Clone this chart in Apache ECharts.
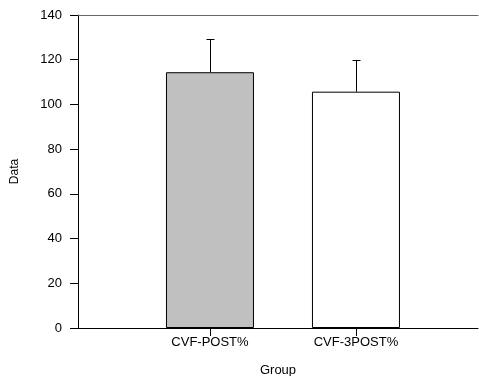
<!DOCTYPE html>
<html>
<head>
<meta charset="utf-8">
<script src="https://cdn.jsdelivr.net/npm/echarts@6/dist/echarts.min.js"></script>
<style>
  html, body { margin: 0; padding: 0; background: #fff; }
  #chart { width: 479px; height: 376px; }
</style>
</head>
<body>
<div id="chart"></div>
<script>
// group names, bar heights and upper error (mean + sd)
const groups = ["CVF-POST%", "CVF-3POST%"];
const groupPos = [1, 2];
const means = [114.4, 105.7];
const upperErr = [129.1, 119.7];
const barColors = ["#c0c0c0", "#ffffff"];
const yTicks = [0, 20, 40, 60, 80, 100, 120, 140];

const chart = echarts.init(document.getElementById("chart"));
const font = "Liberation Sans, Arial, sans-serif";

const option = {
  animation: false,
  grid: { left: 78, right: 1, top: 15, bottom: 48, outerBoundsMode: "none" },
  xAxis: [
    {
      type: "value",
      min: 0.096,
      max: 2.836,
      name: "Group",
      nameLocation: "middle",
      nameGap: 36,
      nameTextStyle: { fontFamily: font, fontSize: 13, color: "#000" },
      splitLine: { show: false },
      axisLine: { lineStyle: { color: "#000", width: 1 } },
      axisTick: { customValues: groupPos, length: 8, lineStyle: { color: "#000" } },
      axisLabel: {
        customValues: groupPos,
        margin: 8,
        fontFamily: font,
        fontSize: 13,
        color: "#000",
        formatter: function (v) {
          return groups[groupPos.indexOf(Math.round(v))] || "";
        }
      }
    },
    {
      type: "value",
      position: "top",
      min: 0.096,
      max: 2.836,
      splitLine: { show: false },
      axisLine: { show: true, lineStyle: { color: "#666", width: 1 } },
      axisTick: { show: false },
      axisLabel: { show: false }
    }
  ],
  yAxis: {
    type: "value",
    min: yTicks[0],
    max: yTicks[yTicks.length - 1],
    interval: 20,
    name: "Data",
    nameLocation: "middle",
    nameGap: 57,
    nameTextStyle: { fontFamily: font, fontSize: 12, color: "#000" },
    splitLine: { show: false },
    axisLine: { show: true, lineStyle: { color: "#000", width: 1 } },
    axisTick: { length: 8, lineStyle: { color: "#000" } },
    axisLabel: { margin: 16, fontFamily: font, fontSize: 13, color: "#000" }
  },
  series: [
    {
      type: "bar",
      barWidth: 88,
      data: groupPos.map(function (p, i) {
        return {
          value: [p, means[i]],
          itemStyle: { color: barColors[i], borderColor: "#000", borderWidth: 1 }
        };
      })
    },
    {
      // upward error bars
      type: "custom",
      data: groupPos.map(function (p, i) { return [p, means[i], upperErr[i]]; }),
      renderItem: function (params, api) {
        const base = api.coord([api.value(0), api.value(1)]);
        const top = api.coord([api.value(0), api.value(2)]);
        const x = Math.round(base[0]) + 0.5;
        const half = 4;
        return {
          type: "group",
          children: [
            {
              type: "line",
              shape: { x1: x, y1: base[1], x2: x, y2: top[1] },
              style: { stroke: "#000", lineWidth: 1 }
            },
            {
              type: "line",
              shape: { x1: x - half, y1: Math.round(top[1]) + 0.5, x2: x + half, y2: Math.round(top[1]) + 0.5 },
              style: { stroke: "#000", lineWidth: 1 }
            }
          ]
        };
      },
      z: 3
    }
  ]
};

chart.setOption(option);
</script>
</body>
</html>
